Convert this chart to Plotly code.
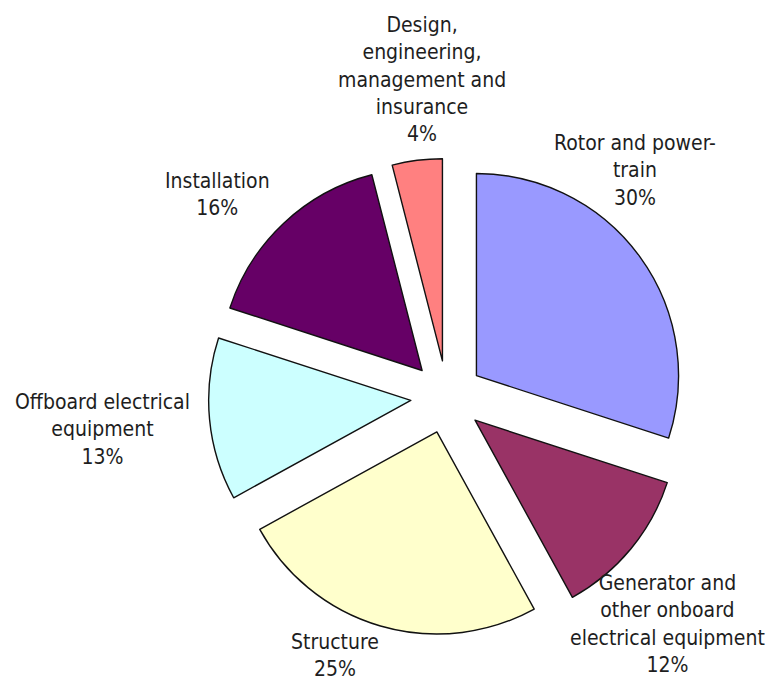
import plotly.graph_objects as go

# Offshore wind cost breakdown
categories = [
    "Rotor and power-<br>train",
    "Generator and<br>other onboard<br>electrical equipment",
    "Structure",
    "Offboard electrical<br>equipment",
    "Installation",
    "Design,<br>engineering,<br>management and<br>insurance",
]
shares = [30, 12, 25, 13, 16, 4]
colors = ["#9999FF", "#993366", "#FFFFCC", "#CCFFFF", "#660066", "#FF8080"]

# label block centres in pixels (x from left, y from top)
label_px = [(635, 170), (667, 624), (335, 655), (102, 429), (217, 195), (422, 79)]

W, H = 766, 682

fig = go.Figure(
    go.Pie(
        labels=categories,
        values=shares,
        sort=False,
        direction="clockwise",
        rotation=0,
        pull=[0.18] * len(shares),
        marker=dict(colors=colors, line=dict(color="#111111", width=1.4)),
        textinfo="none",
        hoverinfo="skip",
        showlegend=False,
        domain=dict(x=[0.2722, 0.8949], y=[0.0682, 0.7676]),
    )
)

total = sum(shares)
for name, val, (px, py) in zip(categories, shares, label_px):
    fig.add_annotation(
        text=f"{name}<br>{round(100 * val / total)}%",
        x=px / W,
        y=1 - py / H,
        xref="paper",
        yref="paper",
        xanchor="center",
        yanchor="middle",
        showarrow=False,
        align="center",
        font=dict(family="DejaVu Sans Condensed", size=21, color="#1e1e1e"),
    )

fig.update_layout(
    width=W,
    height=H,
    margin=dict(l=0, r=0, t=0, b=0),
    paper_bgcolor="white",
    plot_bgcolor="white",
)

fig.write_html("out.html")
